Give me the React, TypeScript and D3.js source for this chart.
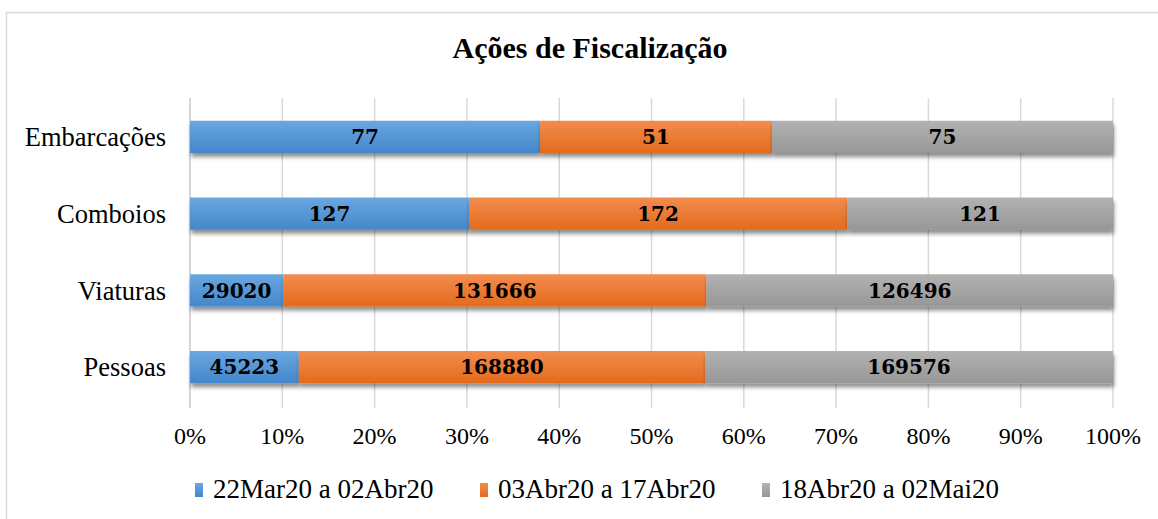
import React from 'react';
import * as d3 from 'd3';

const categories = ['Embarcações', 'Comboios', 'Viaturas', 'Pessoas'];
const seriesNames = ['22Mar20 a 02Abr20', '03Abr20 a 17Abr20', '18Abr20 a 02Mai20'];
const periodo1 = [77, 127, 29020, 45223];
const periodo2 = [51, 172, 131666, 168880];
const periodo3 = [75, 121, 126496, 169576];
const tickValues = [0, 0.1, 0.2, 0.3, 0.4, 0.5, 0.6, 0.7, 0.8, 0.9, 1];

const colors = [
  { top: '#6aa7e0', bottom: '#4387cb' },
  { top: '#f28c4e', bottom: '#e36b1c' },
  { top: '#b2b2b2', bottom: '#979797' },
];

const W = 1158;
const H = 519;

export default function App() {
  const rows = categories.map((c, i) => ({
    cat: c,
    s0: periodo1[i],
    s1: periodo2[i],
    s2: periodo3[i],
  }));
  const keys = ['s0', 's1', 's2'];
  const stacked = d3.stack<any>().keys(keys).offset(d3.stackOffsetExpand)(rows);

  const x = d3.scaleLinear().domain([0, 1]).range([190, 1113]);
  const y = d3
    .scaleBand()
    .domain(categories)
    .range([98.5, 405.5])
    .paddingInner(0.58)
    .paddingOuter(0.29);

  const serif = '"Liberation Serif", "Times New Roman", serif';
  const legendX = [195, 480, 762];

  return (
    <svg width={W} height={H} style={{ position: 'absolute', left: 0, top: 0 }}>
      <defs>
        {colors.map((c, i) => (
          <linearGradient key={i} id={'g' + i} x1="0" y1="0" x2="0" y2="1">
            <stop offset="0" stopColor={c.top} />
            <stop offset="1" stopColor={c.bottom} />
          </linearGradient>
        ))}
        <filter id="shadow" x="-5%" y="-30%" width="110%" height="180%">
          <feGaussianBlur in="SourceAlpha" stdDeviation="2.2" />
          <feOffset dx="1" dy="3.5" result="b" />
          <feComponentTransfer>
            <feFuncA type="linear" slope="0.45" />
          </feComponentTransfer>
          <feMerge>
            <feMergeNode />
            <feMergeNode in="SourceGraphic" />
          </feMerge>
        </filter>
      </defs>
      <rect x={0} y={0} width={W} height={H} fill="#fff" />
      <rect x={6.5} y={12.5} width={W + 10} height={H + 10} fill="#fff" stroke="#d9d9d9" strokeWidth={1.5} />

      <text
        x={590}
        y={58}
        textAnchor="middle"
        fontFamily={serif}
        fontWeight="bold"
        fontSize={30}
        fill="#000"
      >
        Ações de Fiscalização
      </text>

      {tickValues.slice(1).map((t) => (
        <line key={t} x1={x(t)} x2={x(t)} y1={98} y2={408} stroke="#d9d9d9" strokeWidth={1.5} />
      ))}
      <line x1={x(0)} x2={x(0)} y1={98} y2={408} stroke="#c8c8c8" strokeWidth={1.5} />

      {tickValues.map((t) => (
        <text key={t} x={x(t)} y={444} textAnchor="middle" fontFamily={serif} fontSize={24} fill="#000">
          {d3.format('.0%')(t)}
        </text>
      ))}

      {categories.map((c) => (
        <text
          key={c}
          x={166}
          y={(y(c) as number) + y.bandwidth() / 2}
          dy="0.35em"
          textAnchor="end"
          fontFamily={serif}
          fontSize={26.5}
          fill="#000"
        >
          {c}
        </text>
      ))}

      {stacked.map((layer, li) => (
        <g key={li}>
          {layer.map((d, di) => (
            <rect
              key={di}
              x={x(d[0])}
              y={y(d.data.cat)}
              width={x(d[1]) - x(d[0])}
              height={y.bandwidth()}
              fill={`url(#g${li})`}
              filter="url(#shadow)"
            />
          ))}
        </g>
      ))}

      {stacked.map((layer, li) => (
        <g key={'l' + li}>
          {layer.map((d, di) => (
            <text
              key={di}
              x={(x(d[0]) + x(d[1])) / 2}
              y={(y(d.data.cat) as number) + y.bandwidth() / 2}
              dy="0.36em"
              textAnchor="middle"
              fontFamily='"DejaVu Serif", serif'
              fontWeight="bold"
              fontSize={20}
              fill="#000"
            >
              {d.data[keys[li]]}
            </text>
          ))}
        </g>
      ))}

      {seriesNames.map((s, i) => (
        <g key={s}>
          <rect x={legendX[i]} y={483} width={8} height={14} fill={`url(#g${i})`} />
          <text x={legendX[i] + 18} y={498} fontFamily={serif} fontSize={27} fill="#000">
            {s}
          </text>
        </g>
      ))}
    </svg>
  );
}
